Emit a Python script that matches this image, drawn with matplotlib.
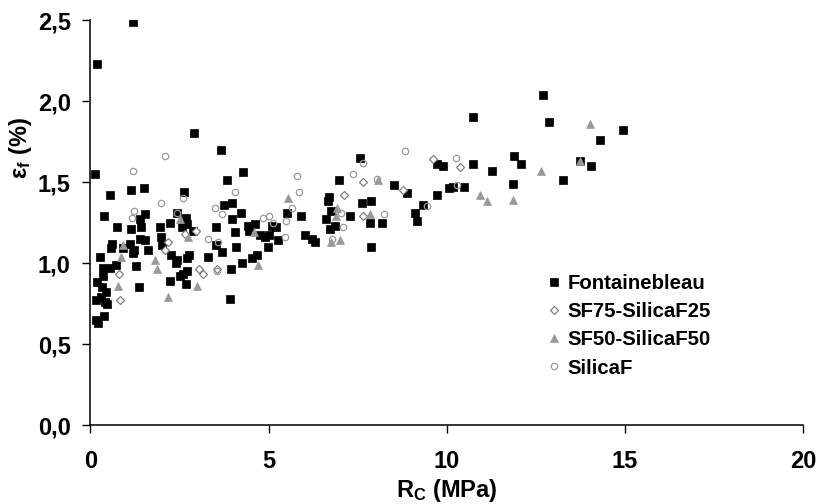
import matplotlib
matplotlib.use("Agg")
import matplotlib.pyplot as plt
from matplotlib.ticker import FuncFormatter

plt.rcParams.update({
    "font.family": ["Liberation Sans", "DejaVu Sans"],
    "font.weight": "bold",
    "axes.labelweight": "bold",
    "mathtext.fontset": "custom",
    "mathtext.rm": "Liberation Sans:bold",
    "mathtext.it": "Liberation Sans:bold",
    "mathtext.bf": "Liberation Sans:bold",
    "mathtext.default": "rm",
})

# ---------------------------------------------------------------------------
# Data (Rc in MPa, eps_f in %)
# ---------------------------------------------------------------------------
fontainebleau_rc = [
    0.20, 1.20, 2.90, 3.67, 0.14, 3.84, 4.29, 0.56, 1.13, 1.50, 2.63,
    0.39, 0.74, 1.53, 1.38, 1.43, 1.14, 1.96, 2.23, 2.44, 2.68, 2.70, 2.58, 2.87,
    1.40, 1.54, 1.99, 2.00, 1.63, 1.23, 1.21, 1.10, 0.92, 0.62, 0.58, 0.28, 0.72,
    0.55, 0.36, 0.35, 0.18, 0.34, 0.44, 0.31, 0.16, 0.40, 0.48, 0.16, 0.38, 0.22,
    1.29, 1.37, 2.26, 2.42, 2.40, 2.77, 2.72, 2.72, 2.52, 2.61, 2.23, 2.69, 3.29,
    3.53, 3.53, 3.68, 3.75, 3.98, 3.98, 4.05, 4.09, 3.96, 3.91,
    7.57, 6.98, 6.70, 6.67, 7.61, 7.86, 8.51, 8.87, 4.23, 5.51, 5.91, 6.74, 6.60,
    6.86, 6.72, 7.28, 7.85, 8.18, 7.88, 4.41, 4.62, 4.46, 4.76, 4.89, 5.01, 5.09,
    5.20, 5.26, 4.98, 4.68, 4.54, 4.26, 6.01, 6.21, 6.30,
    10.74, 12.87, 12.70, 14.93, 14.30, 9.73, 9.88, 10.74, 11.88, 12.08, 11.26,
    13.74, 14.04, 13.25, 11.85, 9.72, 10.05, 10.17, 10.49, 9.32, 9.10, 9.16,
]
fontainebleau_eps = [
    2.23, 2.49, 1.80, 1.70, 1.55, 1.51, 1.56, 1.42, 1.45, 1.46, 1.44,
    1.29, 1.22, 1.30, 1.27, 1.22, 1.21, 1.22, 1.25, 1.31, 1.28, 1.24, 1.22, 1.20,
    1.15, 1.14, 1.16, 1.11, 1.08, 1.08, 1.06, 1.12, 1.09, 1.12, 1.09, 1.04, 0.99,
    0.97, 0.97, 0.92, 0.88, 0.85, 0.82, 0.79, 0.77, 0.76, 0.75, 0.65, 0.67, 0.63,
    0.98, 0.85, 1.05, 1.02, 1.00, 1.05, 1.03, 0.95, 0.92, 0.93, 0.89, 0.87, 1.04,
    1.22, 1.11, 1.07, 1.36, 1.37, 1.27, 1.19, 1.10, 0.96, 0.78,
    1.65, 1.51, 1.41, 1.38, 1.37, 1.38, 1.48, 1.43, 1.31, 1.31, 1.29, 1.32, 1.27,
    1.23, 1.21, 1.29, 1.25, 1.25, 1.10, 1.23, 1.24, 1.20, 1.17, 1.16, 1.17, 1.23,
    1.22, 1.14, 1.10, 1.05, 1.03, 1.00, 1.17, 1.15, 1.13,
    1.90, 1.87, 2.04, 1.82, 1.76, 1.61, 1.60, 1.61, 1.66, 1.61, 1.57,
    1.63, 1.60, 1.51, 1.49, 1.42, 1.46, 1.47, 1.47, 1.36, 1.31, 1.26,
]

sf75_rc = [2.96, 2.18, 2.09, 2.65, 3.04, 3.15, 3.54, 0.80, 0.84,
           7.66, 7.12, 7.64, 8.76, 9.60, 10.37]
sf75_eps = [1.20, 1.13, 1.08, 1.18, 0.96, 0.93, 0.96, 0.93, 0.77,
            1.50, 1.42, 1.29, 1.45, 1.64, 1.59]

sf50_rc = [0.93, 0.86, 0.78, 1.82, 1.88, 2.18, 2.51, 2.74, 2.98, 5.54, 8.08,
           6.91, 6.89, 7.85, 6.76, 7.00, 4.60, 4.70, 14.02, 13.74, 12.64,
           10.94, 11.13, 11.85]
sf50_eps = [1.11, 1.04, 0.86, 1.02, 0.96, 0.79, 1.27, 1.16, 0.86, 1.40, 1.51,
            1.34, 1.29, 1.30, 1.13, 1.14, 1.19, 0.99, 1.86, 1.63, 1.57,
            1.42, 1.38, 1.39]

silicaf_rc = [2.09, 1.19, 1.99, 2.61, 1.23, 1.16, 2.43, 3.49, 3.69, 4.05, 3.30,
              3.57, 3.55, 8.82, 7.66, 7.36, 8.03, 5.81, 5.86, 5.65, 4.83, 5.02,
              5.13, 5.48, 5.45, 7.03, 7.08, 6.79, 8.25, 10.26, 10.28, 9.45]
silicaf_eps = [1.66, 1.57, 1.37, 1.40, 1.32, 1.28, 1.31, 1.34, 1.30, 1.44, 1.15,
               1.13, 0.95, 1.69, 1.62, 1.55, 1.52, 1.54, 1.44, 1.34, 1.28, 1.29,
               1.25, 1.26, 1.16, 1.31, 1.22, 1.15, 1.30, 1.65, 1.48, 1.35]

x_ticks = [0, 5, 10, 15, 20]
y_ticks = [0.0, 0.5, 1.0, 1.5, 2.0, 2.5]

# ---------------------------------------------------------------------------
# Figure
# ---------------------------------------------------------------------------
fig = plt.figure(figsize=(8.21, 5.04), dpi=100)
ax = fig.add_axes([0.110, 0.1567, 0.8685, 0.8036])

ax.plot(fontainebleau_rc, fontainebleau_eps, ls="none", marker="s", ms=5.2,
        mfc="black", mec="black", mew=0.5, label="Fontainebleau")
ax.plot(sf75_rc, sf75_eps, ls="none", marker="D", ms=3.6,
        mfc="white", mec="#808080", mew=0.9, label="SF75-SilicaF25")
ax.plot(sf50_rc, sf50_eps, ls="none", marker="^", ms=5.2,
        mfc="#999999", mec="#999999", mew=0.5, label="SF50-SilicaF50")
ax.plot(silicaf_rc, silicaf_eps, ls="none", marker="o", ms=4.6,
        mfc="none", mec="#999999", mew=0.9, label="SilicaF")

ax.set_xlim(0, 20)
ax.set_ylim(0, 2.5)
ax.set_xticks(x_ticks)
ax.set_yticks(y_ticks)
ax.yaxis.set_major_formatter(FuncFormatter(lambda v, _: f"{v:.1f}".replace(".", ",")))

for side in ("top", "right"):
    ax.spines[side].set_visible(False)
for side in ("left", "bottom"):
    ax.spines[side].set_linewidth(1.1)

ax.tick_params(axis="y", direction="out", length=6, width=1.0, pad=8, labelsize=17)
ax.tick_params(axis="x", direction="out", length=6, width=1.0, pad=12, labelsize=17)

ax.set_xlabel("R$_{C}$ (MPa)", fontsize=17, fontweight="bold", labelpad=3)
ax.set_ylabel("ε$_{f}$ (%)", fontsize=17, fontweight="bold")
ax.yaxis.set_label_coords(-0.079, 0.684)

ax.legend(loc="center left", bbox_to_anchor=(0.636, 0.245), frameon=False,
          fontsize=14.7, handlelength=1.0, handletextpad=0.15, labelspacing=0.45,
          borderpad=0, borderaxespad=0, markerscale=1.0)

fig.savefig("out.png", dpi=100)
plt.close(fig)
